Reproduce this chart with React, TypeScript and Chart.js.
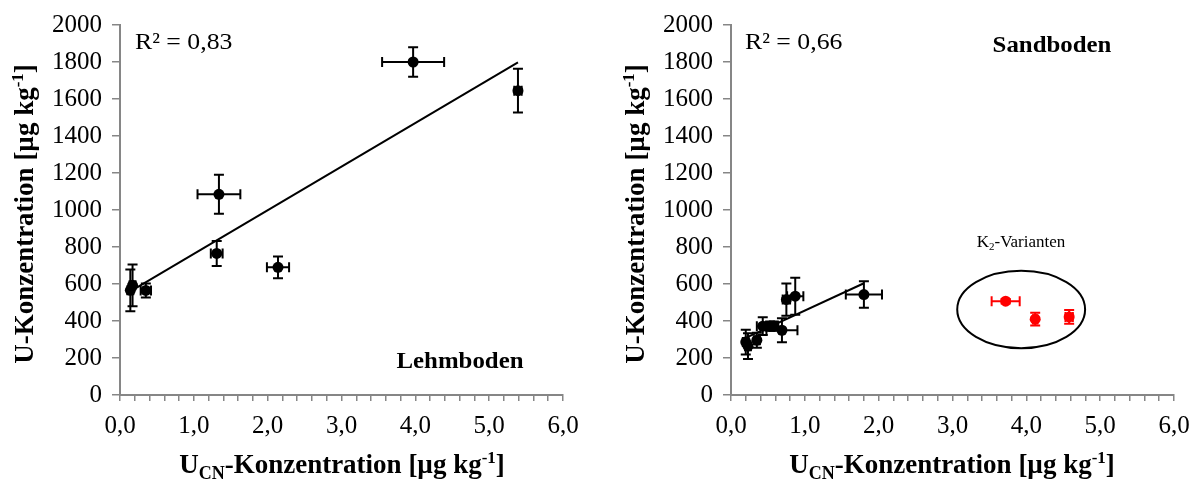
import React, { useEffect, useRef } from "react";
import { Chart, registerables } from "chart.js";

Chart.register(...registerables);

// ---------- data ----------
const X_TICK_LABELS = ["0,0", "1,0", "2,0", "3,0", "4,0", "5,0", "6,0"];

// Lehmboden
const LEHM_X = [3.97, 5.39, 1.34, 1.31, 2.14, 0.17, 0.14, 0.35];
const LEHM_Y = [1800, 1645, 1085, 765, 690, 593, 566, 565];
const LEHM_XERR = [0.42, 0.05, 0.29, 0.08, 0.15, 0.04, 0.04, 0.07];
const LEHM_YERR = [80, 118, 105, 68, 59, 113, 113, 38];
const LEHM_R2 = "0,83";

// Sandboden
const SAND_X = [1.8, 0.87, 0.75, 0.69, 0.43, 0.53, 0.58, 0.35, 0.2, 0.23];
const SAND_Y = [543, 534, 516, 350, 372, 372, 372, 296, 286, 264];
const SAND_XERR = [0.245, 0.11, 0.05, 0.21, 0.08, 0.06, 0.06, 0.04, 0.04, 0.04];
const SAND_YERR = [72, 100, 87, 65, 48, 25, 25, 41, 67, 70];
const SAND_R2 = "0,66";

// K2-Varianten (Sandboden, red)
const K2_X = [3.72, 4.12, 4.58];
const K2_Y = [507, 410, 422];
const K2_XERR = [0.19, 0.03, 0.05];
const K2_YERR = [12, 34, 37];

// ellipse around K2-Varianten (data units)
const K2_ELLIPSE = { cx: 3.93, cy: 462, rx: 0.866, ry: 209 };

// ---------- helpers ----------
function regressionLine(xs: number[], ys: number[]) {
  const n = xs.length;
  const mx = xs.reduce((a, b) => a + b, 0) / n;
  const my = ys.reduce((a, b) => a + b, 0) / n;
  let sxy = 0;
  let sxx = 0;
  for (let i = 0; i < n; i++) {
    sxy += (xs[i] - mx) * (ys[i] - my);
    sxx += (xs[i] - mx) * (xs[i] - mx);
  }
  const b = sxy / sxx;
  const a = my - b * mx;
  const x0 = Math.min(...xs);
  const x1 = Math.max(...xs);
  return [
    { x: x0, y: a + b * x0 },
    { x: x1, y: a + b * x1 },
  ];
}

type Series = { x: number[]; y: number[]; xe: number[]; ye: number[]; color: string };

type Seg = { t: string; size: number; dy: number; bold: boolean };

function drawSegs(ctx: CanvasRenderingContext2D, segs: Seg[], align: "center" | "left") {
  const fontOf = (s: Seg) => `${s.bold ? "bold " : ""}${s.size}px "Liberation Serif", "Times New Roman", serif`;
  let total = 0;
  const widths = segs.map((s) => {
    ctx.font = fontOf(s);
    const w = ctx.measureText(s.t).width;
    total += w;
    return w;
  });
  let x = align === "center" ? -total / 2 : 0;
  ctx.textAlign = "left";
  ctx.textBaseline = "alphabetic";
  segs.forEach((s, i) => {
    ctx.font = fontOf(s);
    ctx.fillText(s.t, x, s.dy);
    x += widths[i];
  });
}

function makeConfig(opts: {
  series: Series[];
  trend: { x: number; y: number }[];
  yAxisWidth: number;
  padRight: number;
  yTitleX: number;
  xTitleX: number;
  r2: string;
  r2X: number;
  soil: string;
  soilX: number;
  soilY: number;
  ellipse?: typeof K2_ELLIPSE;
  k2Label?: { x: number; y: number };
}) {
  const errorPlugin = {
    id: "errorBars",
    beforeDatasetsDraw(chart: any) {
      const ctx = chart.ctx as CanvasRenderingContext2D;
      const xs = chart.scales.x;
      const ys = chart.scales.y;
      ctx.save();
      ctx.lineWidth = 2;
      const cap = 5;
      opts.series.forEach((s) => {
        ctx.strokeStyle = s.color;
        s.x.forEach((xv, i) => {
          const px = xs.getPixelForValue(xv);
          const py = ys.getPixelForValue(s.y[i]);
          const yTop = ys.getPixelForValue(s.y[i] + s.ye[i]);
          const yBot = ys.getPixelForValue(s.y[i] - s.ye[i]);
          const xL = xs.getPixelForValue(xv - s.xe[i]);
          const xR = xs.getPixelForValue(xv + s.xe[i]);
          ctx.beginPath();
          ctx.moveTo(px, yTop);
          ctx.lineTo(px, yBot);
          ctx.moveTo(px - cap, yTop);
          ctx.lineTo(px + cap, yTop);
          ctx.moveTo(px - cap, yBot);
          ctx.lineTo(px + cap, yBot);
          ctx.moveTo(xL, py);
          ctx.lineTo(xR, py);
          ctx.moveTo(xL, py - cap);
          ctx.lineTo(xL, py + cap);
          ctx.moveTo(xR, py - cap);
          ctx.lineTo(xR, py + cap);
          ctx.stroke();
        });
      });
      ctx.restore();
    },
  };

  const textPlugin = {
    id: "texts",
    afterDraw(chart: any) {
      const ctx = chart.ctx as CanvasRenderingContext2D;
      const xs = chart.scales.x;
      const ys = chart.scales.y;
      ctx.save();
      ctx.fillStyle = "#000";
      // y title
      ctx.save();
      ctx.translate(opts.yTitleX, 214);
      ctx.rotate(-Math.PI / 2);
      drawSegs(
        ctx,
        [
          { t: "U-Konzentration [µg kg", size: 27, dy: 0, bold: true },
          { t: "-1", size: 17, dy: -10, bold: true },
          { t: "]", size: 27, dy: 0, bold: true },
        ],
        "center"
      );
      ctx.restore();
      // x title
      ctx.save();
      ctx.translate(opts.xTitleX, 473);
      drawSegs(
        ctx,
        [
          { t: "U", size: 27, dy: 0, bold: true },
          { t: "CN", size: 18, dy: 6, bold: true },
          { t: "-Konzentration [µg kg", size: 27, dy: 0, bold: true },
          { t: "-1", size: 17, dy: -10, bold: true },
          { t: "]", size: 27, dy: 0, bold: true },
        ],
        "center"
      );
      ctx.restore();
      // R2
      ctx.save();
      ctx.translate(opts.r2X, 49);
      ctx.scale(1.12, 1);
      drawSegs(ctx, [{ t: "R² = " + opts.r2, size: 23, dy: 0, bold: false }], "left");
      ctx.restore();
      // soil label
      ctx.save();
      ctx.translate(opts.soilX, opts.soilY);
      ctx.scale(1.08, 1);
      drawSegs(ctx, [{ t: opts.soil, size: 23, dy: 0, bold: true }], "center");
      ctx.restore();
      // ellipse
      if (opts.ellipse) {
        const e = opts.ellipse;
        const cx = xs.getPixelForValue(e.cx);
        const cy = ys.getPixelForValue(e.cy);
        const rx = Math.abs(xs.getPixelForValue(e.cx + e.rx) - cx);
        const ry = Math.abs(ys.getPixelForValue(e.cy + e.ry) - cy);
        ctx.beginPath();
        ctx.lineWidth = 2;
        ctx.strokeStyle = "#000";
        ctx.ellipse(cx, cy, rx, ry, 0, 0, Math.PI * 2);
        ctx.stroke();
      }
      if (opts.k2Label) {
        ctx.save();
        ctx.translate(opts.k2Label.x, opts.k2Label.y);
        drawSegs(
          ctx,
          [
            { t: "K", size: 17, dy: 0, bold: false },
            { t: "2", size: 11, dy: 3, bold: false },
            { t: "-Varianten", size: 17, dy: 0, bold: false },
          ],
          "center"
        );
        ctx.restore();
      }
      ctx.restore();
    },
  };

  const datasets: any[] = opts.series.map((s) => ({
    type: "scatter",
    data: s.x.map((xv, i) => ({ x: xv, y: s.y[i] })),
    backgroundColor: s.color,
    borderColor: s.color,
    borderWidth: 0,
    pointRadius: 5.5,
    pointHoverRadius: 5.5,
  }));
  datasets.push({
    type: "line",
    data: opts.trend,
    borderColor: "#000",
    borderWidth: 2,
    pointRadius: 0,
    fill: false,
  });

  const tickFont = { family: '"Liberation Serif", "Times New Roman", serif', size: 25 };
  const axisColor = "#868686";

  return {
    type: "scatter",
    data: { datasets },
    options: {
      responsive: false,
      animation: false,
      events: [],
      layout: { padding: { top: 24, right: opts.padRight, bottom: 0, left: 0 } },
      plugins: { legend: { display: false }, tooltip: { enabled: false } },
      scales: {
        x: {
          type: "linear",
          min: 0,
          max: 6,
          afterFit: (s: any) => {
            s.height = 84;
            s.paddingLeft = 0;
            s.paddingRight = 0;
          },
          ticks: {
            stepSize: 0.2,
            autoSkip: false,
            maxRotation: 0,
            padding: 10,
            color: "#000",
            font: tickFont,
            callback: (v: number) => {
              const r = Math.round(v);
              return Math.abs(v - r) < 1e-6 ? X_TICK_LABELS[r] : "";
            },
          },
          grid: { drawOnChartArea: false, drawTicks: true, tickLength: 6, color: axisColor, lineWidth: 1.5 },
          border: { color: axisColor, width: 2 },
        },
        y: {
          type: "linear",
          min: 0,
          max: 2000,
          afterFit: (s: any) => {
            s.width = opts.yAxisWidth;
          },
          ticks: {
            stepSize: 200,
            padding: 10,
            color: "#000",
            font: tickFont,
            callback: (v: number) => String(v),
          },
          grid: { drawOnChartArea: false, drawTicks: true, tickLength: 8, color: axisColor, lineWidth: 1.5 },
          border: { color: axisColor, width: 2 },
        },
      },
    },
    plugins: [errorPlugin, textPlugin],
  };
}

function ChartCanvas({ config, width, height }: { config: any; width: number; height: number }) {
  const ref = useRef<HTMLCanvasElement | null>(null);
  useEffect(() => {
    if (!ref.current) return;
    const chart = new Chart(ref.current, config);
    return () => chart.destroy();
  }, [config]);
  return <canvas ref={ref} width={width} height={height} style={{ display: "block", width, height }} />;
}

const leftConfig = makeConfig({
  series: [{ x: LEHM_X, y: LEHM_Y, xe: LEHM_XERR, ye: LEHM_YERR, color: "#000" }],
  trend: regressionLine(LEHM_X, LEHM_Y),
  yAxisWidth: 120,
  padRight: 33,
  yTitleX: 33,
  xTitleX: 342,
  r2: LEHM_R2,
  r2X: 135,
  soil: "Lehmboden",
  soilX: 460,
  soilY: 368,
});

const rightConfig = makeConfig({
  series: [
    { x: SAND_X, y: SAND_Y, xe: SAND_XERR, ye: SAND_YERR, color: "#000" },
    { x: K2_X, y: K2_Y, xe: K2_XERR, ye: K2_YERR, color: "#ff0000" },
  ],
  trend: regressionLine(SAND_X, SAND_Y),
  yAxisWidth: 135,
  padRight: 19,
  yTitleX: 48,
  xTitleX: 356,
  r2: SAND_R2,
  r2X: 149,
  soil: "Sandboden",
  soilX: 456,
  soilY: 52,
  ellipse: K2_ELLIPSE,
  k2Label: { x: 425, y: 247 },
});

export default function App() {
  return (
    <div style={{ position: "fixed", left: 0, top: 0, width: 1193, height: 479, background: "#fff" }}>
      <div style={{ position: "absolute", left: 0, top: 0 }}>
        <ChartCanvas config={leftConfig} width={596} height={479} />
      </div>
      <div style={{ position: "absolute", left: 596, top: 0 }}>
        <ChartCanvas config={rightConfig} width={597} height={479} />
      </div>
    </div>
  );
}
